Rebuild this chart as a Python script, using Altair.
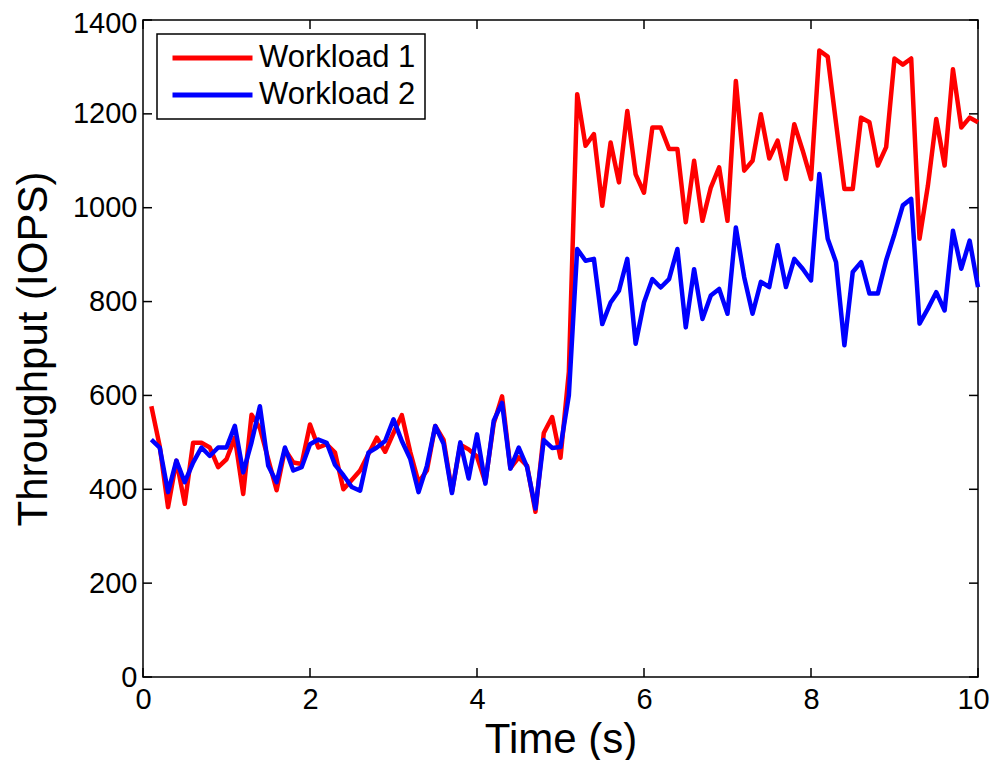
import altair as alt
import pandas as pd

# ---- data ----
time_s = [round(0.1 * k, 1) for k in range(1, 101)]

workload1 = [
    577, 492, 362, 461, 369, 499, 499, 489, 447, 464,
    510, 390, 559, 530, 464, 398, 485, 457, 454, 538,
    489, 496, 478, 400, 420, 440, 475, 510, 480, 520,
    558, 480, 415, 440, 535, 505, 395, 495, 485, 470,
    415, 540, 598, 445, 468, 450, 352, 520, 554, 467,
    650, 1242, 1132, 1157, 1004, 1139, 1054, 1206, 1071, 1032,
    1171, 1171, 1125, 1125, 969, 1100, 972, 1043, 1086, 972,
    1270, 1079, 1100, 1199, 1105, 1143, 1061, 1178, 1122, 1061,
    1335, 1322, 1180, 1040, 1040, 1192, 1182, 1090, 1129, 1318,
    1305, 1318, 934, 1047, 1189, 1090, 1295, 1171, 1192, 1182,
]

workload2 = [
    506, 489, 394, 461, 415, 457, 489, 471, 489, 489,
    535, 436, 500, 577, 450, 415, 489, 440, 447, 496,
    506, 499, 452, 430, 405, 397, 478, 489, 503, 549,
    503, 465, 394, 450, 535, 497, 392, 500, 423, 517,
    412, 546, 584, 444, 489, 447, 359, 505, 488, 490,
    600, 912, 887, 891, 752, 798, 823, 891, 710, 798,
    848, 830, 848, 912, 745, 869, 763, 813, 827, 774,
    958, 852, 774, 842, 831, 920, 831, 891, 870, 845,
    1072, 934, 884, 707, 863, 884, 817, 817, 888, 944,
    1005, 1019, 753, 785, 820, 781, 951, 870, 930, 831,
]

series_names = ["Workload 1", "Workload 2"]
series_colors = ["#ff0000", "#0000ff"]
x_ticks = [0, 2, 4, 6, 8, 10]
y_ticks = [0, 200, 400, 600, 800, 1000, 1200, 1400]

W, H = 835, 657
TICK = 9
FONT = "Liberation Sans"

df = pd.DataFrame({
    "t": time_s + time_s,
    "v": workload1 + workload2,
    "s": [series_names[0]] * len(time_s) + [series_names[1]] * len(time_s),
})
xt = pd.DataFrame({"t": x_ticks})
yt = pd.DataFrame({"v": y_ticks})

xs = alt.Scale(domain=[0, 10], nice=False, zero=False)
ys = alt.Scale(domain=[0, 1400], nice=False, zero=False)

x_axis = alt.Axis(values=x_ticks, title="Time (s)", labelPadding=8, format="d",
                  titlePadding=5, labelFlush=False, labelOverlap=False,
                  labelOffset={"condition": {"test": "datum.value == 10", "value": -5},
                               "value": 0})
y_axis = alt.Axis(values=y_ticks, title="Throughput (IOPS)", labelPadding=6,
                  format="d", titlePadding=17, labelOverlap=False,
                  labelOffset={"condition": {"test": "datum.value == 1400", "value": 3},
                               "value": 0})

lines = alt.Chart(df).mark_line(strokeWidth=4.5, strokeJoin="round").encode(
    x=alt.X("t:Q", scale=xs, axis=x_axis),
    y=alt.Y("v:Q", scale=ys, axis=y_axis),
    color=alt.Color("s:N",
                    scale=alt.Scale(domain=series_names, range=series_colors),
                    legend=alt.Legend(title=None, orient="top-left", offset=14,
                                      symbolType="stroke", symbolSize=6400,
                                      symbolStrokeWidth=5, labelFontSize=31,
                                      labelFont=FONT, labelColor="black",
                                      clipHeight=30, rowPadding=6, padding=9,
                                      labelOffset=4, symbolOffset=4,
                                      strokeColor="black")),
)

rule_style = dict(color="black", strokeWidth=1.5)
bottom_ticks = alt.Chart(xt).mark_rule(**rule_style).encode(
    x=alt.X("t:Q", scale=xs, axis=x_axis), y=alt.value(H), y2=alt.value(H - TICK))
top_ticks = alt.Chart(xt).mark_rule(**rule_style).encode(
    x=alt.X("t:Q", scale=xs, axis=x_axis), y=alt.value(0), y2=alt.value(TICK))
left_ticks = alt.Chart(yt).mark_rule(**rule_style).encode(
    y=alt.Y("v:Q", scale=ys, axis=y_axis), x=alt.value(0), x2=alt.value(TICK))
right_ticks = alt.Chart(yt).mark_rule(**rule_style).encode(
    y=alt.Y("v:Q", scale=ys, axis=y_axis), x=alt.value(W), x2=alt.value(W - TICK))

chart = alt.layer(lines, bottom_ticks, top_ticks, left_ticks, right_ticks).properties(
    width=W, height=H,
    autosize=alt.AutoSizeParams(type="none"),
    padding={"left": 135, "top": 12, "right": 12, "bottom": 83},
).configure_view(
    stroke="black", strokeWidth=1.5
).configure_axis(
    labelFont=FONT, titleFont=FONT, labelFontSize=29, titleFontSize=42,
    titleFontWeight="normal", labelColor="black", titleColor="black",
    ticks=False, tickSize=0, domain=False, grid=False,
).configure_legend(
    strokeWidth=1.5
)

chart.save("out.html", embed_options={"renderer": "svg", "actions": False})
